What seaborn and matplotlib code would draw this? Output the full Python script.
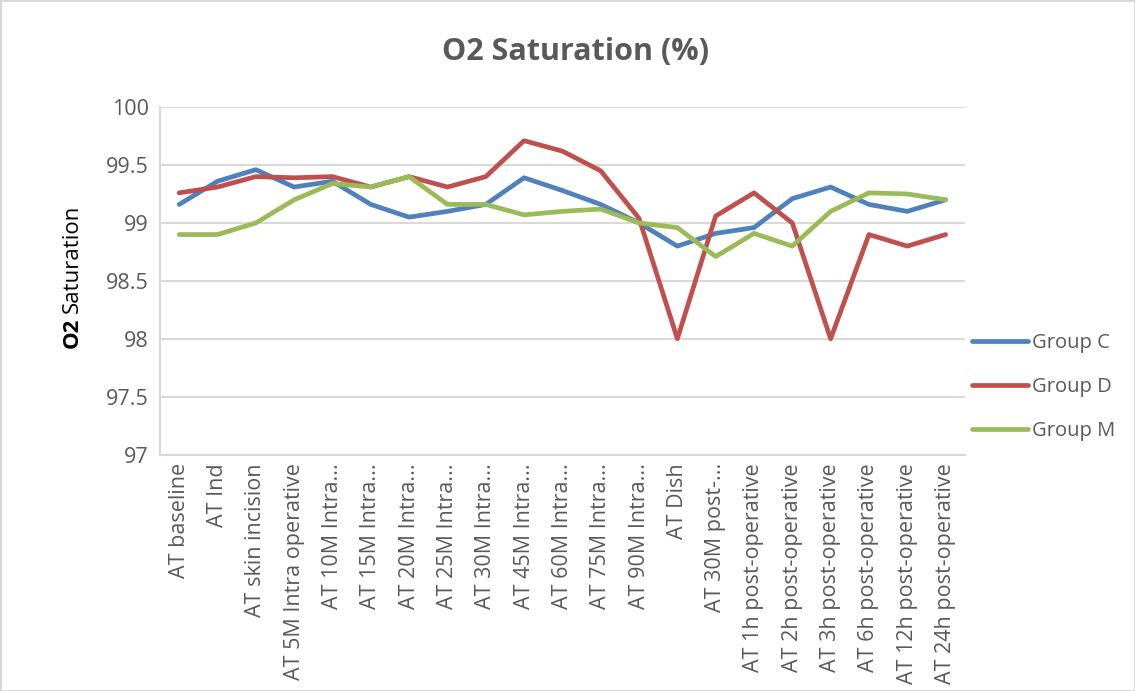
import pandas as pd
import seaborn as sns
import matplotlib.pyplot as plt
from matplotlib.lines import Line2D

# time points along the x axis (labels as Excel truncated them)
time_labels = [
    'AT baseline', 'AT Ind', 'AT skin incision', 'AT 5M Intra operative',
    'AT 10M Intra...', 'AT 15M Intra...', 'AT 20M Intra...', 'AT 25M Intra...',
    'AT 30M Intra...', 'AT 45M Intra...', 'AT 60M Intra...', 'AT 75M Intra...',
    'AT 90M Intra...', 'AT Dish', 'AT 30M post-...',
    'AT 1h post-operative', 'AT 2h post-operative', 'AT 3h post-operative',
    'AT 6h post-operative', 'AT 12h post-operative', 'AT 24h post-operative',
]

group_c = [99.16, 99.36, 99.46, 99.31, 99.36, 99.16, 99.05, 99.10, 99.16, 99.39, 99.28,
           99.16, 99.00, 98.80, 98.91, 98.96, 99.21, 99.31, 99.16, 99.10, 99.20]
group_d = [99.26, 99.31, 99.40, 99.39, 99.40, 99.31, 99.40, 99.31, 99.40, 99.71, 99.62,
           99.45, 99.04, 98.00, 99.06, 99.26, 99.00, 98.00, 98.90, 98.80, 98.90]
group_m = [98.90, 98.90, 99.00, 99.20, 99.34, 99.31, 99.40, 99.16, 99.16, 99.07, 99.10,
           99.12, 99.00, 98.96, 98.71, 98.91, 98.80, 99.10, 99.26, 99.25, 99.20]

groups = ['Group C', 'Group D', 'Group M']
colors = ['#4F81BD', '#C0504D', '#9BBB59']
y_ticks = [97, 97.5, 98, 98.5, 99, 99.5, 100]

sns.set_style('white')
plt.rcParams['font.family'] = ['Open Sans', 'DejaVu Sans']

rows = []
for name, vals in zip(groups, [group_c, group_d, group_m]):
    for i, v in enumerate(vals):
        rows.append({'pos': i, 'value': v, 'group': name})
df = pd.DataFrame(rows)

text_gray = '#595959'
grid_gray = '#d9d9d9'

fig = plt.figure(figsize=(11.35, 6.91), dpi=100)
fig.patch.set_edgecolor(grid_gray)
fig.patch.set_linewidth(2)
ax = fig.add_axes([0.141, 0.342, 0.709, 0.503])

sns.lineplot(data=df, x='pos', y='value', hue='group', palette=colors,
             linewidth=3.4, ax=ax, legend=False, sort=False)

ax.set_xlim(-0.5, len(time_labels) - 0.5)
ax.set_ylim(97, 100)
ax.set_yticks(y_ticks)
ax.set_yticklabels(['97', '97.5', '98', '98.5', '99', '99.5', '100'])
ax.set_xticks(range(len(time_labels)))
ax.set_xticklabels(time_labels, rotation=90)
ax.tick_params(axis='both', colors=text_gray, labelsize=15.5, length=0, pad=8)
ax.tick_params(axis='x', pad=6)

ax.yaxis.grid(True, color=grid_gray, linewidth=1.5)
ax.set_axisbelow(True)
for side in ['top', 'right']:
    ax.spines[side].set_visible(False)
ax.spines['left'].set_color(grid_gray)
ax.spines['bottom'].set_color(grid_gray)
ax.spines['left'].set_linewidth(1.5)
ax.spines['bottom'].set_linewidth(1.5)

ax.set_xlabel('')
ax.set_ylabel('')
# y label: "O2" bold, "Saturation" regular, reading upward
fig.text(0.064, 0.541, 'O2', rotation=90, ha='center', va='top',
         fontsize=16, fontweight='bold', color='black')
fig.text(0.064, 0.547, 'Saturation', rotation=90, ha='center', va='bottom',
         fontsize=16, color='black')

fig.text(0.507, 0.925, 'O2 Saturation (%)', ha='center', va='center',
         fontsize=22, fontweight='bold', color=text_gray)

handles = [Line2D([], [], color=c, linewidth=3.4) for c in colors]
fig.legend(handles, groups, loc='center left', bbox_to_anchor=(0.849, 0.440),
           borderaxespad=0, frameon=False, fontsize=14.5, labelcolor=text_gray,
           handlelength=2.8, labelspacing=1.2, handletextpad=0.2)

fig.savefig('out.png', dpi=100)
